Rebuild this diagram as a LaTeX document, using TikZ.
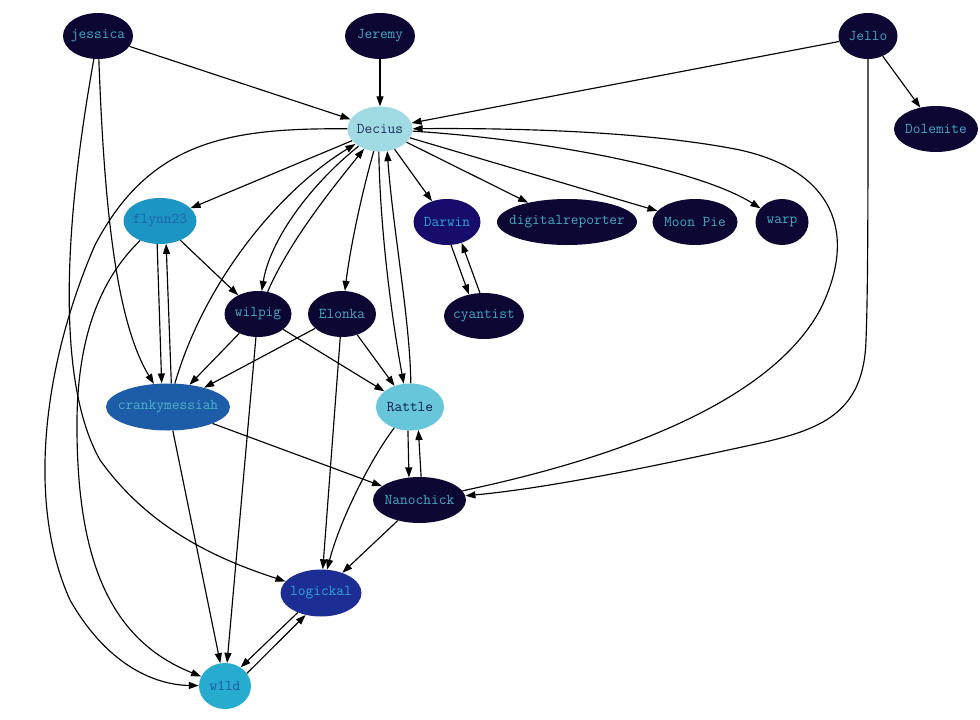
\documentclass[tikz,border=0pt]{standalone}
\usetikzlibrary{shapes.geometric,arrows.meta}
\definecolor{darkfill}{HTML}{0C0733}
\definecolor{darktext}{HTML}{46A9C4}
\definecolor{deciusfill}{HTML}{A0DBE3}
\definecolor{deciustext}{HTML}{1C2F5C}
\definecolor{flynnfill}{HTML}{1B95C4}
\definecolor{flynntext}{HTML}{2062A8}
\definecolor{darwinfill}{HTML}{170C6B}
\definecolor{darwintext}{HTML}{2DA3D3}
\definecolor{crankfill}{HTML}{1D5DA8}
\definecolor{cranktext}{HTML}{4DB3C9}
\definecolor{rattlefill}{HTML}{67C6DA}
\definecolor{rattletext}{HTML}{0E1A48}
\definecolor{logfill}{HTML}{1C2E94}
\definecolor{logtext}{HTML}{33A6D4}
\definecolor{wildfill}{HTML}{27ABCF}
\definecolor{wildtext}{HTML}{1D5AA3}
\begin{document}
\begin{tikzpicture}[x=1pt,y=-1pt,
  nd/.style={ellipse, inner xsep=-12pt, inner ysep=0pt, minimum height=46pt, font=\ttfamily\fontsize{15}{17}\selectfont},
  dk/.style={nd, fill=darkfill, text=darktext},
  conn/.style={draw=black, line width=1.15pt, -{Triangle[length=10pt,width=7pt]}}]
\useasboundingbox (0,0) rectangle (980,720);
\fill[white] (0,0) rectangle (980,720);

% nodes
\node[dk, minimum width=70pt] (jessica) at (98,36) {jessica};
\node[dk, minimum width=70pt] (Jeremy) at (380,36) {Jeremy};
\node[dk, minimum width=59pt] (Jello) at (868,36) {Jello};
\node[nd, fill=deciusfill, text=deciustext, minimum width=65pt, minimum height=45pt] (Decius) at (380,129) {Decius};
\node[dk, minimum width=84pt] (Dolemite) at (936,129) {Dolemite};
\node[nd, fill=flynnfill, text=flynntext, minimum width=73pt] (flynn23) at (160,221) {flynn23};
\node[nd, fill=darwinfill, text=darwintext, minimum width=67pt] (Darwin) at (447,222) {Darwin};
\node[dk, minimum width=140pt] (digitalreporter) at (567,222) {digitalreporter};
\node[dk, minimum width=85pt] (MoonPie) at (695,222) {Moon Pie};
\node[dk, minimum width=53pt] (warp) at (782,222) {warp};
\node[dk, minimum width=67pt] (wilpig) at (258,314) {wilpig};
\node[dk, minimum width=68pt] (Elonka) at (342,314) {Elonka};
\node[dk, minimum width=80pt] (cyantist) at (484,316) {cyantist};
\node[nd, fill=crankfill, text=cranktext, minimum width=124pt, minimum height=47pt] (crankymessiah) at (168,407) {crankymessiah};
\node[nd, fill=rattlefill, text=rattletext, minimum width=68pt, minimum height=47pt] (Rattle) at (410,407) {Rattle};
\node[dk, minimum width=93pt] (Nanochick) at (419.5,500) {Nanochick};
\node[nd, fill=logfill, text=logtext, minimum width=81pt, minimum height=47pt] (logickal) at (321,593) {logickal};
\node[nd, fill=wildfill, text=wildtext, minimum width=52pt] (w1ld) at (225,686) {w1ld};

% edges
\draw[conn] (jessica) -- (Decius);
\draw[conn] (jessica) .. controls (104,200) and (115,320) .. (crankymessiah);
\draw[conn] (jessica) .. controls (65,220) and (55,380) .. (100,460) .. controls (150,530) and (220,560) .. (logickal);
\draw[conn] (Jeremy) -- (Decius);
\draw[conn] (Jello) -- (Decius);
\draw[conn] (Jello) -- (Dolemite);
\draw[conn] (Jello) .. controls (868,200) and (868,290) .. (866,340) .. controls (864,410) and (825,428) .. (765,442) .. controls (660,465) and (550,488) .. (Nanochick);
\draw[conn] (Nanochick) .. controls (560,470) and (760,420) .. (820,310) .. controls (860,230) and (830,170) .. (740,150) .. controls (640,130) and (500,128) .. (Decius);

\draw[conn] (Decius) -- (flynn23);
\draw[conn] (Decius) -- (Darwin);
\draw[conn] (Decius) -- (digitalreporter);
\draw[conn] (Decius) -- (MoonPie);
\draw[conn] (Decius) .. controls (550,140) and (700,170) .. (warp);
\draw[conn] (Decius) .. controls (230,128) and (150,140) .. (95,245) .. controls (45,360) and (25,500) .. (70,600) .. controls (110,670) and (160,685) .. (w1ld);
\draw[conn] (Decius) .. controls (360,200) and (350,250) .. (Elonka);
\draw[conn] (Decius) .. controls (310,185) and (270,240) .. (wilpig);
\draw[conn] (wilpig) .. controls (290,240) and (335,185) .. (Decius);
\draw[conn] (Decius.-93) .. controls (380,230) and (392,320) .. (Rattle.105);
\draw[conn] (Rattle.88) .. controls (410,320) and (393,230) .. (Decius.-72);
\draw[conn] (crankymessiah) .. controls (205,280) and (280,190) .. (Decius);

\draw[conn] (Darwin.-80) -- (cyantist.125);
\draw[conn] (cyantist.100) -- (Darwin.-55);

\draw[conn] (flynn23) .. controls (110,270) and (78,320) .. (77,420) .. controls (76,560) and (110,640) .. (w1ld);
\draw[conn] (flynn23.-97) -- (crankymessiah.105);
\draw[conn] (crankymessiah.82) -- (flynn23.-75);
\draw[conn] (flynn23) -- (wilpig);

\draw[conn] (wilpig) -- (crankymessiah);
\draw[conn] (wilpig) -- (Rattle);
\draw[conn] (wilpig) -- (w1ld);
\draw[conn] (Elonka) -- (crankymessiah);
\draw[conn] (Elonka) -- (Rattle);
\draw[conn] (Elonka) -- (logickal);

\draw[conn] (crankymessiah) -- (Nanochick);
\draw[conn] (crankymessiah) -- (w1ld);

\draw[conn] (Rattle.-95) -- (Nanochick.115);
\draw[conn] (Nanochick.86) -- (Rattle.-70);
\draw[conn] (Rattle) .. controls (370,460) and (340,520) .. (logickal);
\draw[conn] (Nanochick) -- (logickal);

\draw[conn] (logickal.-140) -- (w1ld.50);
\draw[conn] (w1ld.30) -- (logickal.-125);
\end{tikzpicture}
\end{document}
